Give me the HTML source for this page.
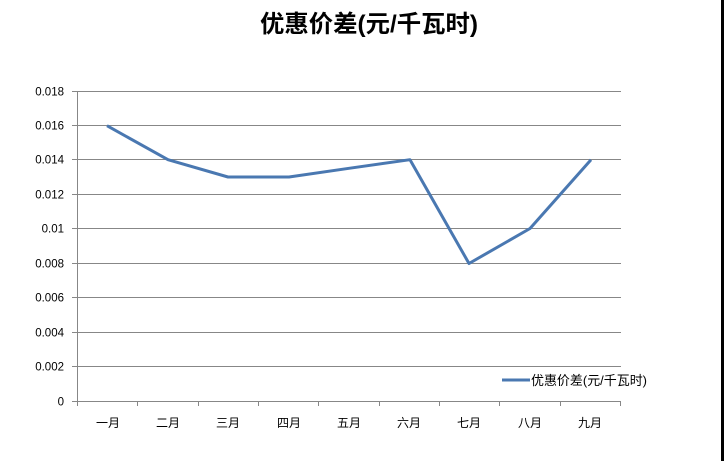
<!DOCTYPE html>
<html>
<head>
<meta charset="utf-8">
<style>
  html, body { margin:0; padding:0; background:#ffffff; }
  body { width:724px; height:461px; overflow:hidden; }
  svg { display:block; }
  .t { font-family:"Liberation Sans","Noto Sans CJK SC",sans-serif; fill:#000; }
</style>
</head>
<body>
<svg width="724" height="461" viewBox="0 0 724 461" xmlns="http://www.w3.org/2000/svg">
  <rect x="0" y="0" width="724" height="461" fill="#ffffff"/>
  <!-- right border -->
  <rect x="721" y="0" width="3" height="461" fill="#000"/>

  <!-- title -->
  <text class="t" x="369" y="32" font-size="24" font-weight="bold" text-anchor="middle" textLength="218" lengthAdjust="spacingAndGlyphs">优惠价差(元/千瓦时)</text>

  <!-- gridlines -->
  <g stroke="#878787" stroke-width="1">
    <line x1="77" y1="91.5" x2="621" y2="91.5"/>
    <line x1="77" y1="125.5" x2="621" y2="125.5"/>
    <line x1="77" y1="159.5" x2="621" y2="159.5"/>
    <line x1="77" y1="194.5" x2="621" y2="194.5"/>
    <line x1="77" y1="228.5" x2="621" y2="228.5"/>
    <line x1="77" y1="263.5" x2="621" y2="263.5"/>
    <line x1="77" y1="297.5" x2="621" y2="297.5"/>
    <line x1="77" y1="332.5" x2="621" y2="332.5"/>
    <line x1="77" y1="366.5" x2="621" y2="366.5"/>
    <line x1="77" y1="401.5" x2="621" y2="401.5"/>
    <!-- y axis -->
    <line x1="77.5" y1="91" x2="77.5" y2="406"/>
    <!-- y ticks -->
    <line x1="72" y1="91.5" x2="77" y2="91.5"/>
    <line x1="72" y1="125.5" x2="77" y2="125.5"/>
    <line x1="72" y1="159.5" x2="77" y2="159.5"/>
    <line x1="72" y1="194.5" x2="77" y2="194.5"/>
    <line x1="72" y1="228.5" x2="77" y2="228.5"/>
    <line x1="72" y1="263.5" x2="77" y2="263.5"/>
    <line x1="72" y1="297.5" x2="77" y2="297.5"/>
    <line x1="72" y1="332.5" x2="77" y2="332.5"/>
    <line x1="72" y1="366.5" x2="77" y2="366.5"/>
    <line x1="72" y1="401.5" x2="77" y2="401.5"/>
    <!-- x ticks -->
    <line x1="137.5" y1="401" x2="137.5" y2="406"/>
    <line x1="198.5" y1="401" x2="198.5" y2="406"/>
    <line x1="258.5" y1="401" x2="258.5" y2="406"/>
    <line x1="318.5" y1="401" x2="318.5" y2="406"/>
    <line x1="379.5" y1="401" x2="379.5" y2="406"/>
    <line x1="439.5" y1="401" x2="439.5" y2="406"/>
    <line x1="499.5" y1="401" x2="499.5" y2="406"/>
    <line x1="560.5" y1="401" x2="560.5" y2="406"/>
    <line x1="620.5" y1="401" x2="620.5" y2="406"/>
  </g>

  <!-- y labels -->
  <g class="t" font-size="11.5" text-anchor="end">
    <text class="t" x="64" y="95.5">0.018</text>
    <text class="t" x="64" y="129.5">0.016</text>
    <text class="t" x="64" y="163.5">0.014</text>
    <text class="t" x="64" y="198.5">0.012</text>
    <text class="t" x="64" y="232.5">0.01</text>
    <text class="t" x="64" y="267.5">0.008</text>
    <text class="t" x="64" y="301.5">0.006</text>
    <text class="t" x="64" y="336.5">0.004</text>
    <text class="t" x="64" y="370.5">0.002</text>
    <text class="t" x="64" y="405.5">0</text>
  </g>

  <!-- x labels -->
  <g font-size="12" text-anchor="middle">
    <text class="t" x="108" y="427">一月</text>
    <text class="t" x="168" y="427">二月</text>
    <text class="t" x="228" y="427">三月</text>
    <text class="t" x="289" y="427">四月</text>
    <text class="t" x="349" y="427">五月</text>
    <text class="t" x="409" y="427">六月</text>
    <text class="t" x="469" y="427">七月</text>
    <text class="t" x="530" y="427">八月</text>
    <text class="t" x="590" y="427">九月</text>
  </g>

  <!-- series -->
  <polyline fill="none" stroke="#4a78b1" stroke-width="3" stroke-linejoin="round"
    points="107,125.7 168,159.7 228,177 289,177 349,168.3 410,159.7 469,263.5 530,228.5 591,159.7"/>

  <!-- legend -->
  <line x1="502" y1="380" x2="530" y2="380" stroke="#4a78b1" stroke-width="3"/>
  <text class="t" x="531" y="385" font-size="13" textLength="116" lengthAdjust="spacingAndGlyphs">优惠价差(元/千瓦时)</text>
</svg>
</body>
</html>
